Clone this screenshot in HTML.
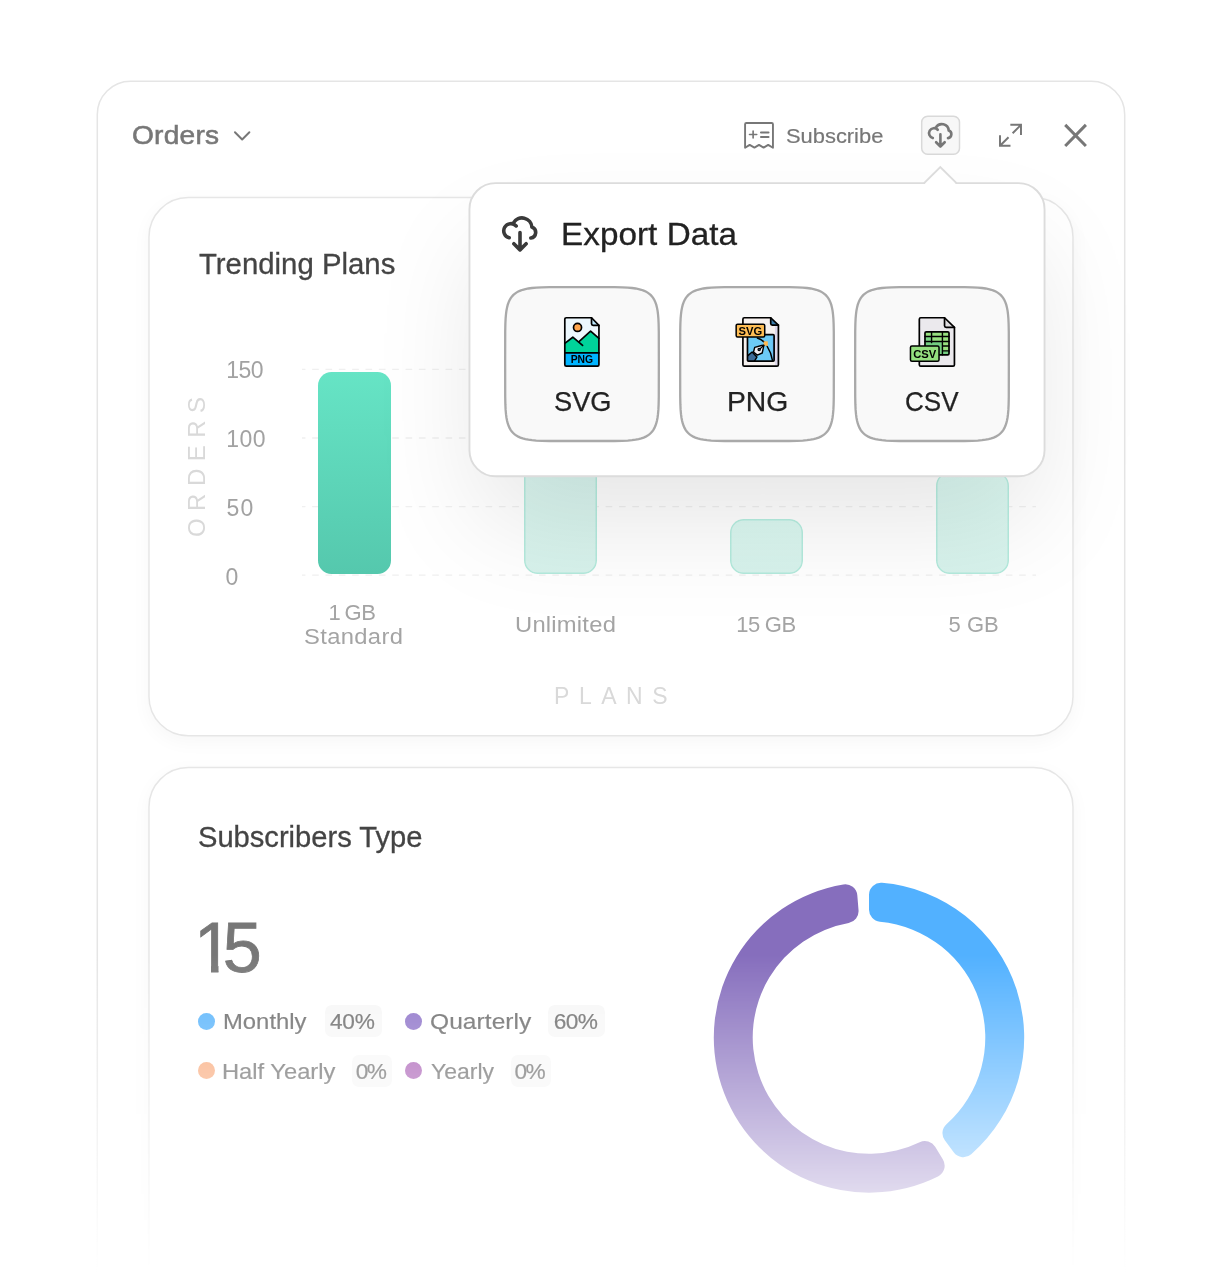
<!DOCTYPE html>
<html lang="en">
<head>
<meta charset="utf-8">
<title>Orders – Export Data</title>
<style>
  *{box-sizing:border-box;margin:0;padding:0}
  html,body{width:1220px;height:1273px;background:#fff;overflow:hidden}
  body{font-family:"Liberation Sans",sans-serif;color:#444;-webkit-font-smoothing:antialiased}
  .page{position:relative;width:1220px;height:1273px;overflow:hidden;background:#fff}
  .fade{position:absolute;left:0;top:0;width:1220px;height:1273px;
    -webkit-mask-image:linear-gradient(to bottom,#000 0,#000 955px,rgba(0,0,0,0) 1273px);
            mask-image:linear-gradient(to bottom,#000 0,#000 955px,rgba(0,0,0,0) 1273px)}
  .t{position:absolute;white-space:nowrap;line-height:40px;height:40px;transform-origin:0 50%}

  /* outer panel */
  .sc{transform:translate(var(--fx,0),var(--fy,0)) scale(var(--sx,1.33333),var(--sy,1.33333));transform-origin:0 0}
  .panel{--fx:.6px;--fy:.6px;--sx:1.332642;position:absolute;left:96px;top:80px;width:772px;height:960px;border:1px solid transparent;border-radius:26px;background:#fff}

  /* header */
  .hd-title{left:131.8px;top:115.2px;font-size:26px;letter-spacing:.22px;transform:scaleX(1.08);color:#777;-webkit-text-stroke:.55px #777}
  .hd-sub{left:786.1px;top:115.5px;font-size:21px;transform:scaleX(1.042);color:#777;-webkit-text-stroke:.2px #777}
  .icon-btn{--fx:.0px;--fy:.65px;--sx:1.3517;--sy:1.357;position:absolute;left:921px;top:115px;width:29px;height:29px;border:1px solid transparent;border-radius:5px;background:#f7f7f7}

  /* cards */
  .card{--fx:.23px;--fy:.93px;--sx:1.333487;--sy:1.3322;position:absolute;left:148px;width:694px;border:1px solid transparent;border-radius:30px;background:#fff;box-shadow:0 4px 14px rgba(0,0,0,.035)}
  .card.trend{top:196px;height:405px}
  .card.subs{top:766px;height:450px}
  .card-title{font-size:29.5px;color:#444;-webkit-text-stroke:.3px #444}
  .trend-title{left:198.6px;top:244.3px;transform:scaleX(.995)}
  .subs-title{left:197.65px;top:816.6px;transform:scaleX(.987)}

  /* popover */
  .pop{--fx:.6px;--fy:.4px;--sx:1.3321;--sy:1.33258;position:absolute;left:468px;top:182px;width:433px;height:221px;border:1px solid transparent;border-radius:20px;background:#fff;
    box-shadow:0 41.3px 82.5px -7.5px rgba(0,0,0,.10)}
  .pop-title{left:560.9px;top:214.2px;font-size:30.5px;letter-spacing:.05px;color:#222;-webkit-text-stroke:.3px #222;transform:scaleX(1.09)}

  /* icons */
  svg{position:absolute;overflow:visible}
  .bd{left:0;top:0;fill:none;stroke-width:1.5;pointer-events:none}
  .ico{fill:none;stroke:#777;stroke-linecap:round;stroke-linejoin:round}

  /* bar chart */
  .bar{position:absolute;border-radius:13.5px;background:linear-gradient(#66e4c5,#55c8ad)}
  .bar.dim{border-radius:13.5px;background:linear-gradient(rgba(102,228,197,.23),rgba(85,200,173,.23)),#fff;box-shadow:inset 0 0 0 1.5px rgba(95,214,185,.3)}
  .ylab{font-size:23px;color:#a2a2a2}
  .xlab{font-size:22px;color:#a4a4a4}
  .axis{font-size:23px;color:#d9d9d9}

  /* legend */
  .big{left:194px;top:927.5px;font-size:70px;color:#777;-webkit-text-stroke:.8px #777}
  .big .n1{display:inline-block;margin-right:-10.3px;clip-path:polygon(0 -12px,24.5px -12px,24.5px 52px,17px 52px,17px 36.5px,0 36.5px)}
  .dot{position:absolute;width:17px;height:17px;border-radius:50%}
  .lg{font-size:22.7px;color:#676767;-webkit-text-stroke:.2px #676767}
  .badge{position:absolute;height:32px;border-radius:7px;background:#f7f7f7}

  /* export buttons */
  .xbtn{position:absolute;top:285.8px;width:156px;height:156.2px}
  .xbtn svg.sq{left:0;top:0}
  .xlabel{font-size:27.5px;color:#222;-webkit-text-stroke:.25px #222}
  .fi text{font-family:"Liberation Sans",sans-serif;font-weight:700;fill:#000}
  .fi .ln{fill:none;stroke:#000;stroke-width:36;stroke-linejoin:round;stroke-linecap:round}
</style>
</head>
<body>
<div class="page">
  <div class="fade">
    <div class="panel sc"></div>
    <svg class="bd" width="1220" height="1273" stroke="#e5e5e5"><rect x="97.3" y="81.3" width="1027.4" height="1300" rx="33.3"/></svg>

    <header class="hd">
    <div class="t hd-title">Orders</div>
    <div class="t hd-sub">Subscribe</div>

    <svg class="ico" style="left:222px;top:116px" width="40" height="40" viewBox="0 0 1220 1220" stroke-width="60"><path d="M395 495L615 715L835 495"/></svg>
    <svg class="ico" style="left:740px;top:116px" width="40" height="40" viewBox="0 0 1220 1220" stroke-width="58">
      <path d="M155 970V255Q155 215 195 215H965Q1005 215 1005 255V970L860 880L720 965L580 880L440 965L295 880Z"/>
      <path d="M290 565H510M400 460V670" stroke-width="50"/>
      <path d="M640 500H870M640 640H870" stroke-width="62"/>
    </svg>
    <div class="icon-btn sc"></div>
    <svg class="bd" width="1220" height="200" stroke="#d9d9d9"><rect x="921.7" y="116.3" width="37.8" height="38" rx="6"/></svg>
    <svg class="ico" style="left:925.1px;top:119.9px" width="30.8" height="30.8" viewBox="0 0 1220 1220" stroke-width="104">
      <path d="M310 715A199 199 0 1 1 504 386M430 300A274 274 0 0 1 940 420A155 155 0 0 1 910 720M610 570V1050M440 880L610 1050L780 880"/>
    </svg>
    <svg class="ico" style="left:990px;top:115px;stroke-linecap:butt;stroke-linejoin:miter" width="40" height="40" viewBox="0 0 1220 1220" stroke-width="60">
      <path d="M620 300H945V610M945 300L690 555M305 615V940H625M305 940L565 680"/>
    </svg>
    <svg class="ico" style="left:1050px;top:110px;stroke-linecap:butt" width="50" height="50" viewBox="1050 110 50 50" stroke-width="3">
      <path d="M1065.2 124.9L1085.9 146M1085.9 124.9L1065.2 146"/>
    </svg>
    </header>

    <section class="trending" aria-label="Trending Plans">
    <div class="card trend sc"></div>
    <svg class="bd" width="1220" height="800" stroke="#e6e6e6"><rect x="148.95" y="197.6" width="924.05" height="538.2" rx="39.3"/></svg>
    <div class="t card-title trend-title">Trending Plans</div>
    <svg style="left:0;top:340px" width="1220" height="260" viewBox="0 340 1220 260">
      <g stroke="#f0f0f0" stroke-width="1.33" stroke-dasharray="6.67 6.67" stroke-dashoffset="3.2" fill="none">
        <path d="M302 369.4H1036"/><path d="M302 438H1036"/><path d="M302 506.6H1036"/><path d="M302 575.2H1036"/>
      </g>
    </svg>
    <div class="bar" style="left:318px;top:372px;width:73px;height:202px"></div>
    <div class="bar dim" style="left:524.4px;top:400px;width:72.6px;height:174px"></div>
    <div class="bar dim" style="left:730.3px;top:519px;width:72.6px;height:55px"></div>
    <div class="bar dim" style="left:936.4px;top:472px;width:72.5px;height:102px"></div>
    <div class="t ylab" style="left:226.3px;top:350.4px;letter-spacing:-.6px">150</div>
    <div class="t ylab" style="left:226.3px;top:419.1px;letter-spacing:.4px">100</div>
    <div class="t ylab" style="left:226.6px;top:487.9px;letter-spacing:1px">50</div>
    <div class="t ylab" style="left:225.4px;top:556.6px">0</div>
    <div class="t axis" style="left:116.7px;top:447.2px;width:160px;text-align:center;font-size:24px;letter-spacing:7.5px;text-indent:7.5px;transform:rotate(-90deg);transform-origin:50% 50%">ORDERS</div>
    <div class="t xlab" style="left:328.4px;top:592.6px;word-spacing:-1.6px;letter-spacing:-.3px">1 GB</div>
    <div class="t xlab" style="left:303.6px;top:616.5px;letter-spacing:.32px;transform:scaleX(1.08)">Standard</div>
    <div class="t xlab" style="left:514.6px;top:605px;letter-spacing:.21px;transform:scaleX(1.08)">Unlimited</div>
    <div class="t xlab" style="left:736.3px;top:605px;word-spacing:-.6px;letter-spacing:-.5px">15 GB</div>
    <div class="t xlab" style="left:948.6px;top:605px">5 GB</div>
    <div class="t axis" style="left:554.1px;top:675.8px;letter-spacing:9.5px">PLANS</div>
    </section>

    <section class="subscribers" aria-label="Subscribers Type">
    <div class="card subs sc"></div>
    <svg class="bd" width="1220" height="1273" stroke="#e6e6e6"><rect x="148.95" y="767.6" width="924.05" height="600" rx="39.3"/></svg>
    <div class="t card-title subs-title">Subscribers Type</div>
    <div class="t big"><span class="n1">1</span>5</div>
    <div class="dot" style="left:198px;top:1012.5px;background:#57b3fb"></div>
    <div class="t lg" style="left:223.2px;top:1001.3px;transform:scaleX(1.051)">Monthly</div>
    <div class="badge" style="left:324.6px;top:1005px;width:57.5px"></div>
    <div class="t lg" style="left:330px;top:1001.3px;letter-spacing:-.25px">40%</div>
    <div class="dot" style="left:405px;top:1012.5px;background:#8c71c8"></div>
    <div class="t lg" style="left:429.5px;top:1001.3px;letter-spacing:.07px;transform:scaleX(1.08)">Quarterly</div>
    <div class="badge" style="left:547.8px;top:1005px;width:57.5px"></div>
    <div class="t lg" style="left:553.8px;top:1001.3px;letter-spacing:-.6px">60%</div>
    <div class="dot" style="left:198px;top:1062px;background:#f9a777"></div>
    <div class="t lg" style="left:222.4px;top:1051px;transform:scaleX(1.045)">Half Yearly</div>
    <div class="badge" style="left:352.1px;top:1054.5px;width:40px"></div>
    <div class="t lg" style="left:355.7px;top:1051px;letter-spacing:-1.6px">0%</div>
    <div class="dot" style="left:405px;top:1062px;background:#a95eb5"></div>
    <div class="t lg" style="left:430.7px;top:1051px;transform:scaleX(1.012)">Yearly</div>
    <div class="badge" style="left:510.8px;top:1054.5px;width:40px"></div>
    <div class="t lg" style="left:514.5px;top:1051px;letter-spacing:-1.6px">0%</div>
    <svg style="left:0;top:870px" width="1220" height="403" viewBox="0 870 1220 403">
      <path fill="#52b1ff" d="M869.00 894.80A12 12 0 0 1 882.01 882.85A155.2 155.2 0 0 1 971.24 1154.26A12 12 0 0 1 953.68 1152.36L944.80 1140.32A12 12 0 0 1 946.47 1124.24A116.3 116.3 0 0 0 879.88 921.71A12 12 0 0 1 869.00 909.76Z"/>
      <path fill="#866ebd" d="M942.92 1159.56A12 12 0 0 1 937.99 1176.52A155.2 155.2 0 1 1 843.37 884.43A12 12 0 0 1 857.31 895.28L858.53 910.19A12 12 0 0 1 848.67 922.99A116.3 116.3 0 1 0 919.68 1142.18A12 12 0 0 1 935.17 1146.76Z"/>
    </svg>
    </section>
  </div>

  <div class="popover" role="dialog" aria-label="Export Data">
  <div class="pop sc"></div>
  <svg class="bd" style="stroke-width:1.9" width="1220" height="500" stroke="#dcdcdc"><rect x="469.45" y="183.15" width="575.1" height="293.15" rx="26"/></svg>
  <svg style="left:920px;top:160px" width="42" height="28" viewBox="920 160 42 28">
    <path d="M925.1 184.7V183.1L940.3 167.9L955.5 183.1V184.7Z" fill="#fff"/>
    <path d="M924.1 183.2L940.3 167L956.5 183.2" fill="none" stroke="#dcdcdc" stroke-width="1.9" stroke-linejoin="miter"/>
  </svg>

  <svg class="ico" style="left:498px;top:212px;stroke:#3a3a3a" width="44" height="44" viewBox="0 0 1220 1220" stroke-width="100">
    <path d="M310 715A199 199 0 1 1 504 386M430 300A274 274 0 0 1 940 420A155 155 0 0 1 910 720M610 570V1050M440 880L610 1050L780 880"/>
  </svg>
  <div class="t pop-title">Export Data</div>

  <div class="xbtn" style="left:504.2px"><svg class="sq" width="156" height="156.2" viewBox="0 0 155 155" preserveAspectRatio="none"><path d="M153.85 77.50L153.80 109.62L153.64 117.50L153.38 122.95L153.01 127.21L152.54 130.75L151.95 133.78L151.26 136.43L150.44 138.77L149.51 140.85L148.44 142.72L147.24 144.39L145.90 145.90L144.39 147.24L142.72 148.44L140.85 149.51L138.77 150.44L136.43 151.26L133.78 151.95L130.75 152.54L127.21 153.01L122.95 153.38L117.50 153.64L109.62 153.80L77.50 153.85L45.38 153.80L37.50 153.64L32.05 153.38L27.79 153.01L24.25 152.54L21.22 151.95L18.57 151.26L16.23 150.44L14.15 149.51L12.28 148.44L10.61 147.24L9.10 145.90L7.76 144.39L6.56 142.72L5.49 140.85L4.56 138.77L3.74 136.43L3.05 133.78L2.46 130.75L1.99 127.21L1.62 122.95L1.36 117.50L1.20 109.62L1.15 77.50L1.20 45.38L1.36 37.50L1.62 32.05L1.99 27.79L2.46 24.25L3.05 21.22L3.74 18.57L4.56 16.23L5.49 14.15L6.56 12.28L7.76 10.61L9.10 9.10L10.61 7.76L12.28 6.56L14.15 5.49L16.23 4.56L18.57 3.74L21.22 3.05L24.25 2.46L27.79 1.99L32.05 1.62L37.50 1.36L45.38 1.20L77.50 1.15L109.62 1.20L117.50 1.36L122.95 1.62L127.21 1.99L130.75 2.46L133.78 3.05L136.43 3.74L138.77 4.56L140.85 5.49L142.72 6.56L144.39 7.76L145.90 9.10L147.24 10.61L148.44 12.28L149.51 14.15L150.44 16.23L151.26 18.57L151.95 21.22L152.54 24.25L153.01 27.79L153.38 32.05L153.64 37.50L153.80 45.38Z" fill="#f9f9f9" stroke="#a9a9a9" stroke-width="2.3"/></svg></div>
  <div class="xbtn" style="left:679.3px"><svg class="sq" width="156" height="156.2" viewBox="0 0 155 155" preserveAspectRatio="none"><path d="M153.85 77.50L153.80 109.62L153.64 117.50L153.38 122.95L153.01 127.21L152.54 130.75L151.95 133.78L151.26 136.43L150.44 138.77L149.51 140.85L148.44 142.72L147.24 144.39L145.90 145.90L144.39 147.24L142.72 148.44L140.85 149.51L138.77 150.44L136.43 151.26L133.78 151.95L130.75 152.54L127.21 153.01L122.95 153.38L117.50 153.64L109.62 153.80L77.50 153.85L45.38 153.80L37.50 153.64L32.05 153.38L27.79 153.01L24.25 152.54L21.22 151.95L18.57 151.26L16.23 150.44L14.15 149.51L12.28 148.44L10.61 147.24L9.10 145.90L7.76 144.39L6.56 142.72L5.49 140.85L4.56 138.77L3.74 136.43L3.05 133.78L2.46 130.75L1.99 127.21L1.62 122.95L1.36 117.50L1.20 109.62L1.15 77.50L1.20 45.38L1.36 37.50L1.62 32.05L1.99 27.79L2.46 24.25L3.05 21.22L3.74 18.57L4.56 16.23L5.49 14.15L6.56 12.28L7.76 10.61L9.10 9.10L10.61 7.76L12.28 6.56L14.15 5.49L16.23 4.56L18.57 3.74L21.22 3.05L24.25 2.46L27.79 1.99L32.05 1.62L37.50 1.36L45.38 1.20L77.50 1.15L109.62 1.20L117.50 1.36L122.95 1.62L127.21 1.99L130.75 2.46L133.78 3.05L136.43 3.74L138.77 4.56L140.85 5.49L142.72 6.56L144.39 7.76L145.90 9.10L147.24 10.61L148.44 12.28L149.51 14.15L150.44 16.23L151.26 18.57L151.95 21.22L152.54 24.25L153.01 27.79L153.38 32.05L153.64 37.50L153.80 45.38Z" fill="#f9f9f9" stroke="#a9a9a9" stroke-width="2.3"/></svg></div>
  <div class="xbtn" style="left:854.4px"><svg class="sq" width="156" height="156.2" viewBox="0 0 155 155" preserveAspectRatio="none"><path d="M153.85 77.50L153.80 109.62L153.64 117.50L153.38 122.95L153.01 127.21L152.54 130.75L151.95 133.78L151.26 136.43L150.44 138.77L149.51 140.85L148.44 142.72L147.24 144.39L145.90 145.90L144.39 147.24L142.72 148.44L140.85 149.51L138.77 150.44L136.43 151.26L133.78 151.95L130.75 152.54L127.21 153.01L122.95 153.38L117.50 153.64L109.62 153.80L77.50 153.85L45.38 153.80L37.50 153.64L32.05 153.38L27.79 153.01L24.25 152.54L21.22 151.95L18.57 151.26L16.23 150.44L14.15 149.51L12.28 148.44L10.61 147.24L9.10 145.90L7.76 144.39L6.56 142.72L5.49 140.85L4.56 138.77L3.74 136.43L3.05 133.78L2.46 130.75L1.99 127.21L1.62 122.95L1.36 117.50L1.20 109.62L1.15 77.50L1.20 45.38L1.36 37.50L1.62 32.05L1.99 27.79L2.46 24.25L3.05 21.22L3.74 18.57L4.56 16.23L5.49 14.15L6.56 12.28L7.76 10.61L9.10 9.10L10.61 7.76L12.28 6.56L14.15 5.49L16.23 4.56L18.57 3.74L21.22 3.05L24.25 2.46L27.79 1.99L32.05 1.62L37.50 1.36L45.38 1.20L77.50 1.15L109.62 1.20L117.50 1.36L122.95 1.62L127.21 1.99L130.75 2.46L133.78 3.05L136.43 3.74L138.77 4.56L140.85 5.49L142.72 6.56L144.39 7.76L145.90 9.10L147.24 10.61L148.44 12.28L149.51 14.15L150.44 16.23L151.26 18.57L151.95 21.22L152.54 24.25L153.01 27.79L153.38 32.05L153.64 37.50L153.80 45.38Z" fill="#f9f9f9" stroke="#a9a9a9" stroke-width="2.3"/></svg></div>

  <svg class="fi" style="left:555px;top:312px" width="56" height="60" viewBox="0 0 1188 1273">
    <path d="M240 122H775L932 285V1120Q932 1148 904 1148H240Q208 1148 208 1120V150Q208 122 240 122Z" fill="#ecf7fd"/>
    <path d="M208 665L378 535L515 640L755 405L932 560V870H208Z" fill="#00d39a"/>
    <path d="M208 870H932V1120Q932 1148 904 1148H240Q208 1148 208 1120Z" fill="#00b4ff"/>
    <path d="M775 122V250Q775 285 810 285H932Z" fill="#bdeaff"/>
    <circle cx="478" cy="328" r="85" fill="#ffa54d"/>
    <g class="ln">
      <path d="M240 122H775L932 285V1120Q932 1148 904 1148H240Q208 1148 208 1120V150Q208 122 240 122Z"/>
      <path d="M775 122V250Q775 285 810 285H932"/>
      <path d="M208 665L378 535L585 710"/>
      <path d="M515 625L755 405L932 560"/>
      <path d="M208 868H932"/>
      <circle cx="478" cy="328" r="85"/>
    </g>
    <text x="570" y="1090" text-anchor="middle" font-size="220">PNG</text>
  </svg>

  <svg class="fi" style="left:729px;top:312px" width="56" height="60" viewBox="0 0 1188 1273">
    <path d="M325 122H885L1048 278V1120Q1048 1150 1018 1150H325Q295 1150 295 1120V152Q295 122 325 122Z" fill="#f6f1ef"/>
    <rect x="975" y="300" width="58" height="835" fill="#dcd7ea"/>
    <path d="M885 122V245Q885 278 920 278H1048Z" fill="#3b7dab"/>
    <rect x="392" y="482" width="565" height="560" rx="20" fill="#6ccaf6"/>
    <rect x="925" y="500" width="30" height="525" fill="#66b2f1"/>
    <path d="M400 925L490 850L592 955L540 1040H400Z" fill="#3c6b97"/>
    <path d="M545 750L690 712L740 705L728 760L705 870L600 915L520 850Z" fill="#f1eef2"/>
    <g class="ln">
      <path d="M325 122H885L1048 278V1120Q1048 1150 1018 1150H325Q295 1150 295 1120V152Q295 122 325 122Z"/>
      <path d="M885 122V245Q885 278 920 278H1048"/>
      <rect x="392" y="482" width="565" height="560" rx="20"/>
      <path d="M600 552Q730 590 790 700" stroke-width="30"/>
      <path d="M810 730Q895 860 925 1035" stroke-width="30"/>
      <rect x="737" y="622" width="86" height="95" fill="#ffb84f" stroke="none"/>
      <path d="M400 925L490 850L592 955L540 1040" stroke-width="30"/>
      <path d="M545 750L690 712L740 705L728 760L705 870L600 915L520 850Z" stroke-width="30"/>
      <path d="M735 710L655 785" stroke-width="26"/>
      <circle cx="640" cy="798" r="24" fill="#3c6b97" stroke-width="26"/>
    </g>
    <rect x="152" y="258" width="606" height="270" rx="30" fill="#ffbe55" stroke="#000" stroke-width="32"/>
    <text x="455" y="478" text-anchor="middle" font-size="238">SVG</text>
  </svg>

  <svg class="fi" style="left:904px;top:312px" width="56" height="60" viewBox="0 0 1188 1273">
    <path d="M355 122H860L1070 325V1120Q1070 1150 1040 1150H355Q325 1150 325 1120V152Q325 122 355 122Z" fill="#ebe9ed"/>
    <path d="M860 122V290Q860 325 895 325H1070Z" fill="#dfdde0"/>
    <rect x="445" y="420" width="510" height="490" rx="28" fill="#97e07f"/>
    <path d="M445 630H815V825H955V882Q955 910 927 910H473Q445 910 445 882Z" fill="#74cf82"/>
    <rect x="445" y="530" width="140" height="95" fill="#7bd585"/>
    <g class="ln">
      <path d="M355 122H860L1070 325V1120Q1070 1150 1040 1150H355Q325 1150 325 1120V152Q325 122 355 122Z"/>
      <path d="M860 122V290Q860 325 895 325H1070"/>
      <rect x="445" y="420" width="510" height="490" rx="28"/>
      <path d="M585 420V650M815 420V910M445 520H955M445 625H955M815 720H955M815 825H955" stroke-width="30"/>
    </g>
    <rect x="137" y="723" width="606" height="322" rx="32" fill="#94df7f" stroke="#000" stroke-width="32"/>
    <text x="440" y="972" text-anchor="middle" font-size="238">CSV</text>
  </svg>

  <div class="t xlabel" style="left:553.7px;top:381.6px;transform:scaleX(.99)">SVG</div>
  <div class="t xlabel" style="left:727.1px;top:381.6px;transform:scaleX(1.029)">PNG</div>
  <div class="t xlabel" style="left:905.1px;top:381.6px;transform:scaleX(.947)">CSV</div>
  </div>
</div>
</body>
</html>
